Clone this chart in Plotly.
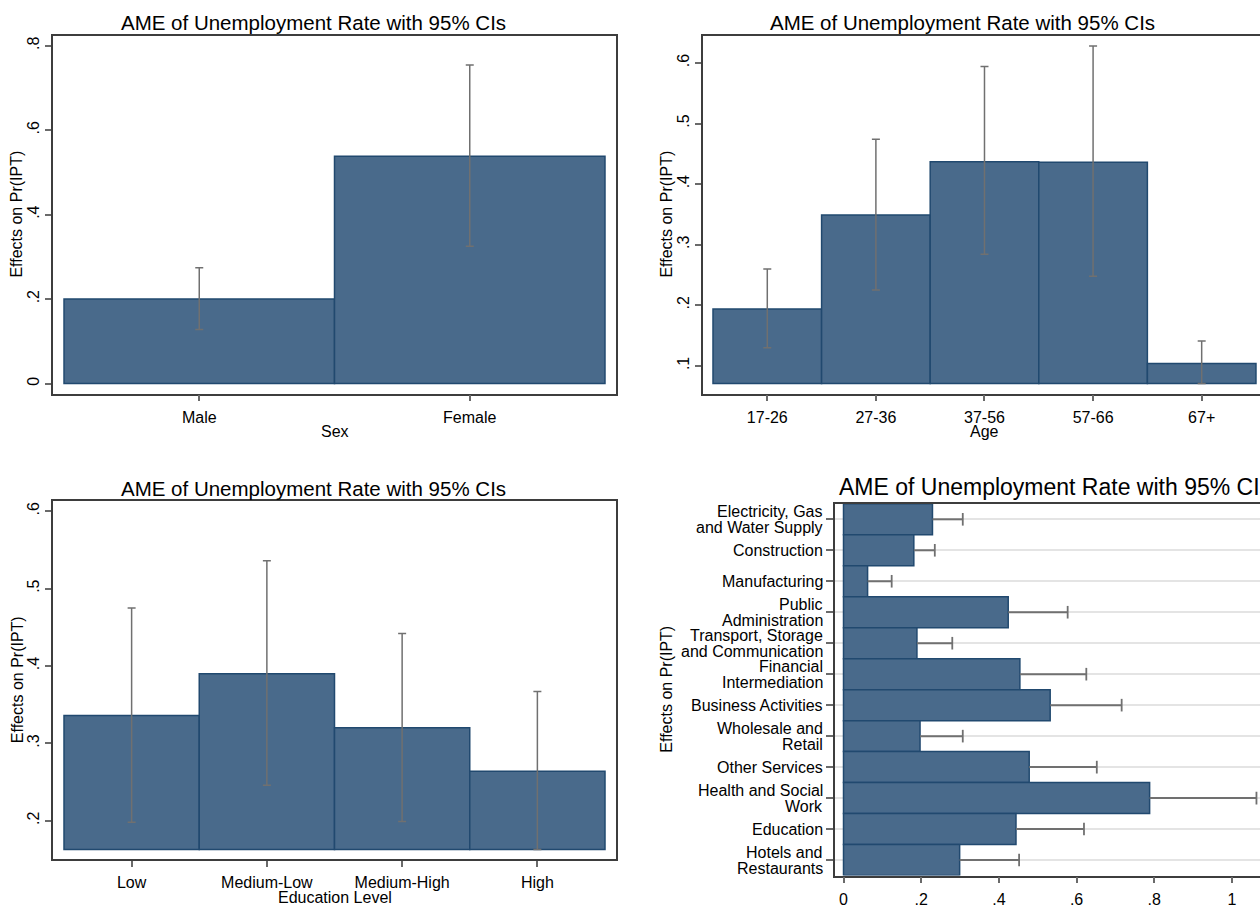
import plotly.graph_objects as go

# ---------------- data ----------------
sex_cats = ["Male", "Female"]
sex_ame = [0.200, 0.538]
sex_lo = [0.128, 0.325]
sex_hi = [0.274, 0.754]

age_cats = ["17-26", "27-36", "37-56", "57-66", "67+"]
age_ame = [0.194, 0.349, 0.437, 0.436, 0.104]
age_lo = [0.130, 0.225, 0.284, 0.248, 0.071]
age_hi = [0.260, 0.474, 0.594, 0.628, 0.141]

edu_cats = ["Low", "Medium-Low", "Medium-High", "High"]
edu_ame = [0.336, 0.390, 0.320, 0.264]
edu_lo = [0.198, 0.246, 0.199, 0.163]
edu_hi = [0.475, 0.536, 0.442, 0.367]

ind_cats = ["Electricity, Gas<br>and Water Supply", "Construction", "Manufacturing",
            "Public<br>Administration", "Transport, Storage<br>and Communication",
            "Financial<br>Intermediation", "Business Activities", "Wholesale and<br>Retail",
            "Other Services", "Health and Social<br>Work", "Education", "Hotels and<br>Restaurants"]
ind_ame = [0.229, 0.181, 0.062, 0.424, 0.189, 0.454, 0.532, 0.197, 0.478, 0.788, 0.444, 0.299]
ind_hi = [0.307, 0.235, 0.124, 0.577, 0.280, 0.625, 0.716, 0.307, 0.652, 1.063, 0.619, 0.452]

title_text = "AME of Unemployment Rate with 95% CIs"
ytitle_text = "Effects on Pr(IPT)"

# ---------------- style ----------------
W, H = 1260, 908
FONT = "Liberation Sans, Arial, sans-serif"
BAR_FILL = "#496a8b"
BAR_LINE = "#21496f"
CI_COL = "#707070"
AX_COL = "#3d3d3d"
TICK_COL = "#6a6a6a"


def px_x(p):
    return p / W


def px_y(p):
    return 1 - p / H


fig = go.Figure()


def vbar_panel(idx, cats, ame, lo, hi, base):
    xa, ya = ("x", "y") if idx == 1 else (f"x{idx}", f"y{idx}")
    fig.add_trace(go.Bar(
        x=cats, y=[v - base for v in ame], base=base, width=1,
        marker=dict(color=BAR_FILL, line=dict(color=BAR_LINE, width=1.5)),
        xaxis=xa, yaxis=ya, showlegend=False))
    fig.add_trace(go.Scatter(
        x=cats, y=ame, mode="markers",
        marker=dict(size=1, color="rgba(0,0,0,0)"),
        error_y=dict(type="data", symmetric=False,
                     array=[h - v for h, v in zip(hi, ame)],
                     arrayminus=[v - l for v, l in zip(ame, lo)],
                     color=CI_COL, thickness=1.5, width=4),
        xaxis=xa, yaxis=ya, showlegend=False))


vbar_panel(1, sex_cats, sex_ame, sex_lo, sex_hi, 0.0)
vbar_panel(2, age_cats, age_ame, age_lo, age_hi, min(age_lo))
vbar_panel(3, edu_cats, edu_ame, edu_lo, edu_hi, min(edu_lo))

# panel 4: horizontal bars
seg_x, seg_y = [], []
for c, v, h in zip(ind_cats, ind_ame, ind_hi):
    seg_x += [v, h, None]
    seg_y += [c, c, None]
fig.add_trace(go.Bar(
    x=ind_ame, y=ind_cats, orientation="h", width=1,
    marker=dict(color=BAR_FILL, line=dict(color=BAR_LINE, width=1.5)),
    xaxis="x4", yaxis="y4", showlegend=False))
fig.add_trace(go.Scatter(
    x=seg_x, y=seg_y, mode="lines", line=dict(color=CI_COL, width=2),
    xaxis="x4", yaxis="y4", showlegend=False, connectgaps=False))
fig.add_trace(go.Scatter(
    x=ind_hi, y=ind_cats, mode="markers",
    marker=dict(symbol="line-ns", size=9, line=dict(color=CI_COL, width=1.8)),
    xaxis="x4", yaxis="y4", showlegend=False))

tickfont = dict(family=FONT, size=16, color="#000")


def xax(domain, rng, mirror=True, **kw):
    d = dict(domain=domain, range=rng, showline=True, linecolor=AX_COL, linewidth=1.6,
             mirror=mirror, ticks="outside", ticklen=6, tickwidth=1.5, tickcolor=TICK_COL,
             showgrid=False, zeroline=False, tickfont=tickfont, ticklabelstandoff=2)
    d.update(kw)
    return d


def yax(domain, rng, anchor, mirror=True, **kw):
    d = dict(domain=domain, range=rng, anchor=anchor, showline=True, linecolor=AX_COL,
             linewidth=1.6, mirror=mirror, ticks="outside", ticklen=6, tickwidth=1.5,
             tickcolor=TICK_COL, showgrid=False, zeroline=False, tickfont=tickfont,
             tickangle=-90)
    d.update(kw)
    return d


top_dom = [px_y(397), px_y(36)]
bot_dom = [px_y(866.7), px_y(505.7)]
left_dom = [px_x(53), px_x(616)]

fig.update_layout(
    width=W, height=H, margin=dict(l=0, r=0, t=0, b=0),
    paper_bgcolor="white", plot_bgcolor="white",
    font=dict(family=FONT, size=16, color="#000"),
    showlegend=False,
    xaxis=xax(left_dom, [-0.5407, 1.5407], anchor="y", type="category"),
    yaxis=yax(top_dom, [-0.0235, 0.8235], "x",
              tickvals=[0, 0.2, 0.4, 0.6, 0.8], ticktext=["0", ".2", ".4", ".6", ".8"]),
    xaxis2=xax([px_x(703), 1.0], [-0.592, 4.537], anchor="y2", type="category"),
    yaxis2=yax(top_dom, [0.0543, 0.645], "x2", mirror=False,
               tickvals=[0.1, 0.2, 0.3, 0.4, 0.5, 0.6],
               ticktext=[".1", ".2", ".3", ".4", ".5", ".6"]),
    xaxis3=xax(left_dom, [-0.5813, 3.5813], anchor="y3", type="category"),
    yaxis3=yax(bot_dom, [0.1505, 0.6128], "x3",
               tickvals=[0.2, 0.3, 0.4, 0.5, 0.6],
               ticktext=[".2", ".3", ".4", ".5", ".6"]),
    xaxis4=xax([px_x(835), 1.0], [-0.0219, 1.0721], anchor="y4",
               tickvals=[0, 0.2, 0.4, 0.6, 0.8, 1.0],
               ticktext=["0", ".2", ".4", ".6", ".8", "1"]),
    yaxis4=dict(domain=[px_y(883.3), px_y(508.3)], anchor="x4", type="category",
                range=[len(ind_cats) - 0.5, -0.5], showline=True, linecolor=AX_COL,
                linewidth=1.6, mirror=False, ticks="outside", ticklen=7, tickwidth=1.5,
                tickcolor=TICK_COL, showticklabels=False, showgrid=True,
                gridcolor="#e4e4e4", gridwidth=1.5, zeroline=False),
)

ann = []
# panel titles
for xc, yc, size, anchor in [(313, 22.5, 20.5, "center"), (963, 22.5, 20.5, "center"),
                             (313, 492.5, 20.5, "center"), (837, 491.5, 23, "left")]:
    ann.append(dict(text=title_text, x=px_x(xc), y=px_y(yc), xref="paper", yref="paper",
                    xanchor=anchor, yanchor="middle", showarrow=False,
                    font=dict(family=FONT, size=size, color="#000")))
# y titles
for xc, y0, y1 in [(17, 36, 397), (667, 36, 397), (17, 505.7, 866.7), (667, 508.3, 883.3)]:
    ann.append(dict(text=ytitle_text, x=px_x(xc), y=px_y((y0 + y1) / 2), xref="paper",
                    yref="paper", xanchor="center", yanchor="middle", textangle=-90,
                    showarrow=False, font=dict(family=FONT, size=16, color="#000")))
# x titles
for txt, xc, yc in [("Sex", 334.5, 435.5), ("Age", 984.5, 435.5),
                    ("Education Level", 334.5, 905)]:
    ann.append(dict(text=txt, x=px_x(xc), y=px_y(yc), xref="paper", yref="paper",
                    xanchor="center", yanchor="middle", showarrow=False,
                    font=dict(family=FONT, size=16, color="#000")))
# industry tick labels (tight line spacing)
for i, lab in enumerate(ind_cats):
    lines = lab.split("<br>")
    n = len(lines)
    for j, ln in enumerate(lines):
        shift = (n - 1) * 8 - j * 16
        ann.append(dict(text=ln, x=0, y=i, xref="x4 domain", yref="y4", xanchor="right",
                        yanchor="middle", xshift=-10, yshift=shift, showarrow=False,
                        font=dict(family=FONT, size=16, color="#000")))
fig.update_layout(annotations=ann)

fig.write_html("out.html")
